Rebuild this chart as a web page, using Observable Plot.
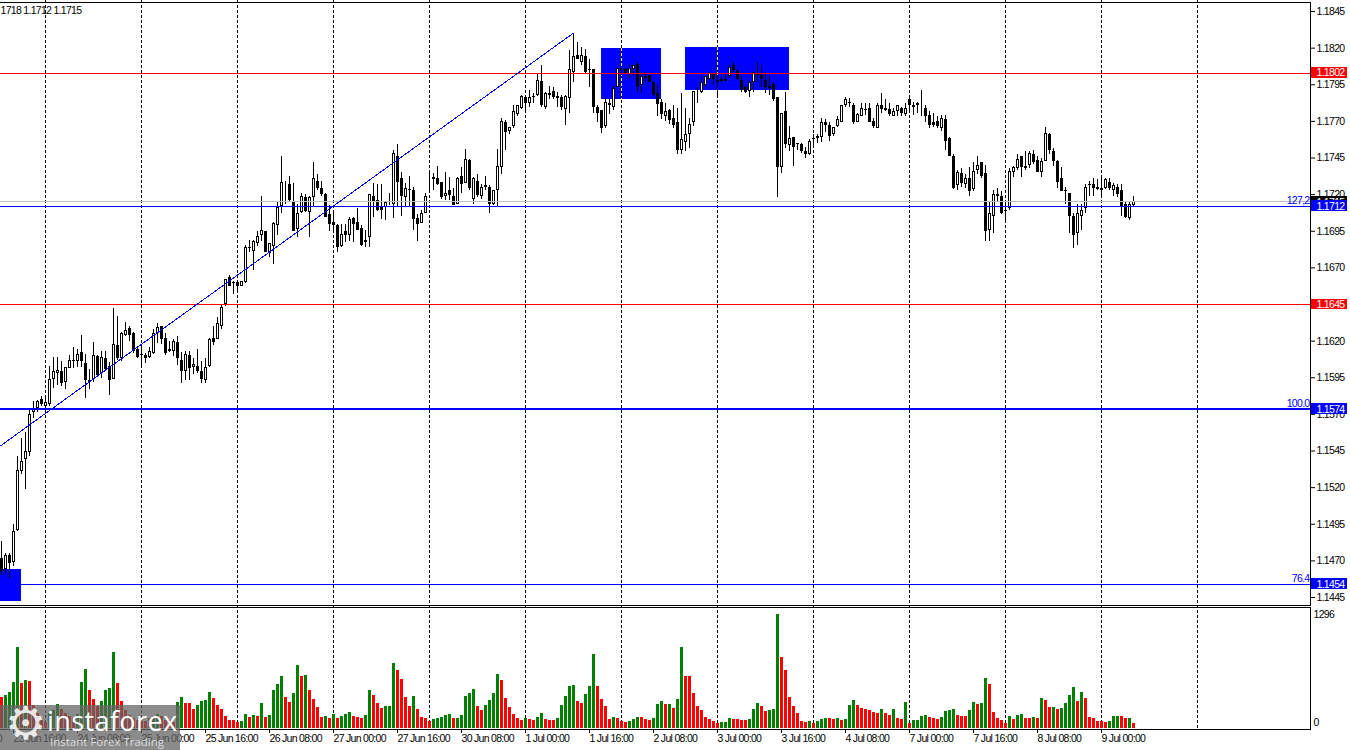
<!DOCTYPE html>
<html><head><meta charset="utf-8">
<script src="https://cdn.jsdelivr.net/npm/d3@7"></script>
<script src="https://cdn.jsdelivr.net/npm/@observablehq/plot@0.6"></script>
<style>
html,body{margin:0;padding:0;background:#fff;overflow:hidden}
#chart{position:relative;width:1350px;height:750px}
#chart svg{display:block;position:absolute;left:0}
#wm{position:absolute;left:0;top:705px;width:180px;height:45px;background:rgba(100,100,100,.75);overflow:hidden;color:#fff;font-family:"Open Sans",sans-serif}
#wm .g{position:absolute;left:5px;top:-9px;font:46px "DejaVu Sans";color:rgba(255,255,255,.85)}
#wm .n{position:absolute;left:47px;top:-3px;font-size:27px;line-height:38px;letter-spacing:.4px}
#wm .s{position:absolute;left:50px;top:29px;font-size:11.5px;line-height:15px;color:#ddd}
</style></head><body>
<div id="chart"></div>
<script>
// Candles, MT4 points (price x 100000), EURUSD H1
const highs=[114832,114752,114752,114945,115412,115532,115578,115730,115787,115792,
115821,115817,116030,116090,116090,116060,116021,116099,116155,116144,
116235,116110,116003,116194,116105,116128,116128,116053,116424,116367,
116260,116328,116299,116258,116162,116174,116117,116158,116276,116322,
116303,116253,116196,116212,116231,116121,116128,116128,116083,116144,
116060,116083,116219,116303,116362,116444,116624,116651,116604,116604,
116610,116856,116890,116890,116945,117184,116945,116863,117013,117143,
117457,117293,117327,117279,117136,117211,117204,117184,117416,117334,
117293,117211,117129,117074,116993,116993,116993,117047,117047,117102,
116986,116958,117204,117279,117266,117266,117156,117211,117504,117545,
117348,117279,117327,117252,117061,117095,117211,117348,117341,117395,
117286,117348,117320,117245,117320,117382,117511,117443,117320,117334,
117266,117327,117259,117231,117511,117723,117709,117661,117805,117811,
117880,117880,117914,117887,118030,118084,117900,117941,117934,117900,
117880,117880,118187,118303,118241,118207,118194,118125,118057,117805,
117771,117859,117852,117941,118064,118064,118064,118078,118091,118105,
118037,118037,118016,117975,117948,117846,117825,117784,117811,117791,
117893,117791,117723,117907,117934,118003,118009,118037,118030,118016,
118003,118030,118078,118105,118057,118003,117941,117982,118037,118105,
118084,118037,118009,117968,117866,117757,117900,117668,117593,117552,
117552,117525,117573,117607,117607,117723,117716,117695,117661,117736,
117811,117866,117859,117825,117757,117825,117825,117825,117723,117825,
117887,117852,117825,117791,117811,117798,117825,117859,117832,117832,
117914,117805,117764,117757,117730,117743,117743,117593,117477,117368,
117375,117334,117382,117416,117463,117416,117402,117143,117231,117245,
117218,117150,117375,117395,117477,117457,117491,117491,117504,117457,
117450,117661,117620,117518,117436,117388,117252,117211,117074,117136,
117136,117272,117293,117307,117300,117307,117307,117307,117279,117272,
117266,117143,117143,117184];
const lows=[114597,114604,114581,114661,114900,115287,115184,115412,115673,115712,
115757,115730,115753,115876,115896,115889,115867,116012,116014,116017,
116019,115807,115867,115917,115953,115946,115999,115828,115935,116071,
116060,116231,116196,116117,116078,116037,116044,116083,116112,116185,
116174,116103,116121,116094,116037,115908,115930,115928,115969,115980,
115912,115908,116019,116167,116208,116276,116433,116570,116515,116529,
116570,116590,116808,116679,116849,116883,116802,116774,116726,116918,
117074,117136,117143,116945,116904,117074,117081,116904,117115,117231,
117184,117047,116945,116945,116808,116842,116870,116877,116870,116952,
116849,116842,116836,117047,117088,117027,117020,117129,117034,117115,
117054,117115,117115,116958,116883,117006,117068,117231,117225,117259,
117170,117163,117163,117129,117136,117211,117279,117231,117136,117177,
117170,117231,117074,117129,117109,117334,117498,117607,117648,117730,
117784,117757,117798,117825,117873,117798,117784,117846,117846,117798,
117771,117675,117757,117968,118119,118084,118030,117934,117757,117695,
117620,117654,117750,117777,117928,118016,118023,117996,118003,117900,
117893,117962,117962,117873,117736,117716,117702,117682,117648,117477,
117477,117491,117518,117668,117825,117887,117934,117982,117948,117880,
117968,117975,117996,118037,117982,117900,117887,117866,117900,117962,
117928,117893,117880,117839,117177,117341,117518,117491,117395,117504,
117484,117450,117470,117518,117552,117559,117627,117566,117600,117661,
117689,117798,117798,117682,117689,117730,117743,117689,117648,117654,
117757,117764,117736,117730,117736,117736,117736,117757,117743,117757,
117730,117695,117648,117661,117654,117634,117504,117457,117238,117225,
117252,117245,117184,117218,117334,117307,116877,116877,116938,117143,
117061,117006,117095,117320,117368,117320,117368,117375,117409,117348,
117320,117429,117477,117395,117245,117218,117136,116938,116829,116856,
116958,117074,117184,117184,117225,117184,117238,117225,117184,117177,
117054,117040,117020,117122];
const bodyTops=[114718,114736,114734,114902,115318,115380,115448,115701,115730,115789,
115803,115780,115935,115994,116001,115996,116017,116069,116071,116110,
116124,116049,115933,116103,116092,116090,116083,116026,116178,116171,
116253,116271,116283,116253,116144,116110,116103,116130,116253,116294,
116299,116219,116144,116199,116194,116071,116110,116103,116039,116028,
115996,116021,116210,116221,116322,116431,116624,116631,116597,116597,
116604,116842,116836,116877,116911,116952,116945,116863,117006,117115,
117286,117272,117272,117156,117074,117184,117177,117177,117307,117293,
117245,117204,117061,117013,116986,116931,116945,117027,117034,117013,
116972,116890,117204,117190,117163,117122,117143,117156,117484,117457,
117307,117245,117238,117225,117040,117074,117190,117313,117320,117313,
117286,117211,117225,117190,117313,117327,117443,117436,117307,117293,
117252,117259,117252,117225,117395,117702,117695,117661,117764,117805,
117873,117866,117866,117873,117982,117975,117893,117893,117907,117873,
117866,117873,118057,118146,118153,118153,118146,118057,118057,117798,
117771,117832,117825,117921,118064,118057,118057,118064,118084,118091,
118009,118003,118016,117962,117893,117832,117764,117771,117723,117695,
117573,117607,117682,117907,117893,117962,118003,118030,118030,117982,
117989,117989,118071,118084,118043,117982,117934,117968,118037,118023,
118016,117982,117941,117955,117866,117757,117764,117586,117593,117552,
117545,117491,117566,117586,117600,117695,117695,117675,117661,117716,
117805,117852,117832,117811,117750,117791,117784,117791,117702,117805,
117811,117791,117784,117764,117805,117791,117791,117852,117811,117825,
117811,117791,117743,117695,117702,117723,117716,117586,117457,117354,
117341,117307,117313,117361,117402,117416,117341,117074,117204,117204,
117190,117095,117361,117382,117443,117457,117395,117484,117477,117436,
117423,117614,117607,117491,117423,117307,117231,117211,117054,117074,
117095,117252,117266,117272,117252,117245,117300,117286,117259,117252,
117225,117136,117136,117156];
const bodyBottoms=[114627,114638,114679,114688,114907,115309,115393,115439,115712,115739,
115764,115757,115764,115939,115980,115908,115919,116014,116060,116062,
116062,115930,115917,115939,115967,115976,116008,115930,115937,116078,
116080,116237,116237,116128,116087,116101,116080,116087,116117,116253,
116208,116117,116126,116126,116080,115992,115996,116012,116017,115996,
115935,115933,116024,116194,116210,116303,116447,116576,116590,116570,
116576,116597,116829,116815,116863,116918,116808,116795,116849,116986,
117122,117266,117163,116945,116965,117081,117088,117081,117177,117245,
117204,117047,116999,116986,116842,116849,116924,116924,116999,116958,
116856,116870,116904,117150,117095,117095,117115,117150,117136,117286,
117184,117177,117225,117027,116999,117006,117074,117307,117300,117266,
117177,117184,117197,117129,117136,117266,117279,117245,117170,117197,
117184,117252,117136,117136,117225,117382,117627,117634,117668,117750,
117791,117825,117825,117866,117880,117805,117798,117880,117866,117859,
117798,117784,117859,118037,118119,118105,118037,118050,117798,117757,
117654,117668,117805,117798,117934,118050,118030,118023,118057,117934,
117948,117996,117968,117880,117818,117750,117736,117709,117675,117498,
117504,117559,117607,117689,117887,117900,117948,117989,117989,117968,
117975,117975,118003,118050,117989,117914,117900,117907,117962,118016,
117989,117934,117921,117846,117388,117382,117539,117532,117525,117539,
117491,117477,117477,117579,117586,117593,117675,117600,117607,117668,
117695,117805,117825,117695,117689,117736,117777,117689,117668,117654,
117784,117777,117750,117736,117764,117757,117750,117805,117798,117805,
117805,117730,117675,117675,117668,117654,117566,117457,117245,117259,
117279,117266,117218,117238,117368,117327,116945,116958,117054,117184,
117074,117088,117102,117348,117375,117388,117375,117402,117416,117348,
117354,117429,117498,117429,117286,117218,117218,117054,116924,116938,
117054,117102,117259,117245,117238,117225,117245,117245,117225,117204,
117115,117047,117040,117129];
// W = rising (hollow) candle, B = falling (filled) candle
const candleKinds=("BWBWWWWWWW"+"BWWWWBWWBW"+"BBWWBWBBWB"+"WWBBBBBWWW"+"BBWWBBWBWB"+"BWWBWWWBWB"+"WWWWWWBWWW"+"WWBBWWBWWB"+"BBBBBWBWBB"+"BWWBBBWWWB"+
"BWBBBWWWBB"+"BWBBWBWBWB"+"WBBWWWBWWW"+"WBWWWBWBBB"+"BWWWBWBWBB"+"BWBWWWBWWB"+"WBBBBBWBBB"+"WWWWWWWWBB"+"WWWBBBBWWW"+"BBWBBWBWBB"+
"BBWWWWBBWW"+"WWBBWWBBBW"+"BBBWWBWBBB"+"BBBBBWBBBW"+"BWBWWBBWWW"+"BWWWWBWWBB"+"WWBBBBBBBW"+"WWWBBBWBWB"+"BBWW");
const volumes=[355,378,412,525,922,514,548,537,265,170,
95,68,170,204,276,219,174,132,113,163,
525,673,435,333,253,310,435,457,866,514,
310,208,151,113,95,76,83,113,140,163,
140,95,95,68,299,355,287,287,219,265,
310,321,412,344,265,219,140,95,95,64,
83,163,129,151,140,287,129,151,435,503,
593,355,299,401,718,593,605,435,333,242,
129,140,117,163,117,140,163,185,140,129,
117,151,435,378,287,231,253,253,741,662,
559,355,253,367,219,129,117,83,106,117,
129,151,163,117,117,151,367,401,446,253,
208,265,321,401,616,548,344,242,163,117,
95,117,106,95,129,174,106,95,95,117,
265,367,480,491,310,287,389,480,843,480,
333,253,106,129,117,83,72,83,106,129,
129,106,95,117,276,310,276,276,231,333,
922,593,593,401,253,208,129,106,83,60,
72,72,117,106,106,95,95,106,219,287,
253,197,208,219,1296,809,662,355,253,174,
83,72,83,60,83,106,117,117,106,117,
95,106,265,321,265,231,219,208,185,174,
219,174,151,219,117,106,299,60,95,95,
140,151,129,117,106,129,197,208,219,151,
140,140,208,299,276,287,571,503,185,117,
95,60,140,106,151,163,117,117,129,117,
344,321,242,242,219,231,287,378,469,310,
412,344,129,117,83,83,72,83,140,140,
140,117,117,60];
const volumeKinds=("rggggrgrrr"+"rrgggrrrrg"+"ggrrrggggr"+"rrrrrrrrgg"+"rrrrggrrrg"+"gggrrrrrrr"+"ggrgrgrggg"+"grrggrgrrr"+"rgrgrgggrr"+"rggrrrgggr"+
"rrrgrrrrgg"+"gggrgggggr"+"rggggrrrrr"+"rgrrggrrrg"+"ggggrrgggr"+"rrrgrrrggg"+"rrrgggrgrg"+"grrrrrrrrr"+"gggrrrrggg"+"rrgggrrrrr"+
"rrgrgggrrg"+"rgggrrrrrr"+"grrgrrgrgg"+"ggrrrggggr"+"rrggrggrrr"+"rrgrggrrgr"+"grrgrggggr"+"grrrrrrggg"+"rrgr");
const priceTicks=[1.1445,1.1470,1.1495,1.1520,1.1545,1.1570,1.1595,1.1620,1.1645,1.1670,1.1695,1.1720,1.1745,1.1770,1.1795,1.1820,1.1845];
const dateLabels=["23 Jun 00:00","23 Jun 16:00","24 Jun 08:00","25 Jun 00:00","25 Jun 16:00","26 Jun 08:00","27 Jun 00:00","27 Jun 16:00","30 Jun 08:00","1 Jul 00:00","1 Jul 16:00","2 Jul 08:00","3 Jul 00:00","3 Jul 16:00","4 Jul 08:00","7 Jul 00:00","7 Jul 16:00","8 Jul 08:00","9 Jul 00:00"];
const dateBars=[-13,3,19,35,51,67,83,99,115,131,147,163,179,195,211,227,243,259,275];
const dayBars=[11,35,59,83,107,131,155,179,203,227,251,275,299];
const levels=[{p:1.1803,label:"1.1802",c:"#ff0000",w:1},{p:1.1645,label:"1.1645",c:"#ff0000",w:1},{p:1.15735,label:"1.1574",c:"#0000ff",w:2},{p:1.1712,label:"1.1712",c:"#0000ff",w:1},{p:1.1454,label:"1.1454",c:"#0000ff",w:1}];
const lastClose=1.1715;
const fibLabels=[{p:1.1712,t:"127,2"},{p:1.15735,t:"100.0"},{p:1.1454,t:"76.4"}];
const boxes=[{a:149.875,b:164.875,top:1.18200,bot:1.17846},{a:170.875,b:196.875,top:1.18207,bot:1.17914},{a:-0.25,b:4.875,top:1.14638,bot:1.14426}];
const trend=[{i:-0.25,p:1.15485},{i:143,p:1.18303}];
const header="1718 1.1712 1.1715";

const n=highs.length, idx=d3.range(n);
const price=v=>v/1e5;
const up=i=>candleKinds[i]==="W";
const xScale={type:"linear",domain:[-0.25,327.25],range:[0,1310]};
const dash="3,2";
const font="'Liberation Sans',Arial,sans-serif";
const crisp={shapeRendering:"crispEdges"};
const pxP=25e-4/36.64;   // price per pixel, only used to size the label tags
const Hw=.375;
const tag=(p,fill,label)=>[
  Plot.rect([p],{x1:()=>327.5,x2:()=>336.5,y1:d=>d+5.5*pxP,y2:d=>d-5.5*pxP,fill,...crisp}),
  Plot.text([p],{x:()=>328.75,y:d=>d,text:()=>label,fill:"#fff",textAnchor:"start"})
];
const priceFig=Plot.plot({
  width:1350,height:606,marginLeft:0,marginRight:40,marginTop:2,marginBottom:1,
  style:{fontFamily:font,fontSize:"10.5px",letterSpacing:"-0.7px",background:"#fff",overflow:"hidden"},
  x:{...xScale,axis:null},
  y:{type:"linear",domain:[1.1845,1.1445],range:[11,597],axis:null},
  marks:[
    Plot.frame({anchor:"top"}),Plot.frame({anchor:"right"}),Plot.frame({anchor:"bottom"}),
    Plot.axisY({anchor:"right",ticks:priceTicks,tickFormat:d=>d.toFixed(4),tickSize:4,tickPadding:2,label:null}),
    Plot.rect(boxes,{x1:"a",x2:"b",y1:"top",y2:"bot",fill:"#0000ff",...crisp}),
    Plot.ruleX(dayBars,{x:d=>d,y1:1.1859,y2:1.1408,stroke:"#000",strokeDasharray:dash,...crisp}),
    Plot.ruleX([155],{x:d=>d,y1:1.18200,y2:1.17846,stroke:"#ffff00",strokeDasharray:dash,...crisp}),
    Plot.ruleX([179],{x:d=>d,y1:1.18207,y2:1.17914,stroke:"#ffff00",strokeDasharray:dash,...crisp}),
    Plot.ruleX(idx,{x:i=>i,y1:i=>price(lows[i]),y2:i=>price(highs[i]),stroke:"#000",...crisp}),
    Plot.rect(idx,{x1:i=>i-Hw,x2:i=>i+Hw,y1:i=>price(bodyTops[i]),y2:i=>price(bodyBottoms[i]),fill:"#000",...crisp}),
    Plot.rect(idx.filter(up),{x1:i=>i-Hw,x2:i=>i+Hw,y1:i=>price(bodyTops[i]),y2:i=>price(bodyBottoms[i]),inset:1,fill:"#fff",...crisp}),
    Plot.ruleY([lastClose],{stroke:"#c0c0c0",...crisp}),
    Plot.ruleY(levels,{y:"p",stroke:"c",strokeWidth:"w",...crisp}),
    Plot.line(trend,{x:"i",y:"p",stroke:"#0000ff",strokeWidth:1,...crisp}),
    Plot.text(fibLabels,{x:()=>327,y:"p",text:"t",fill:"#0000ff",textAnchor:"end",dy:-5.5}),
    Plot.text([header],{frameAnchor:"top-left",lineAnchor:"middle",dy:8,dx:0,text:d=>d,fill:"#000",textAnchor:"start"}),
    ...tag(lastClose-0.00003,"#000","1.1715"),
    ...levels.flatMap(l=>tag(l.p,l.c,l.label))
  ]
});
const volFig=Plot.plot({
  width:1350,height:144,marginLeft:0,marginRight:40,marginTop:1,marginBottom:21,
  style:{fontFamily:font,fontSize:"10.5px",letterSpacing:"-0.7px",background:"#fff",overflow:"hidden"},
  x:{...xScale,axis:null},
  y:{type:"linear",domain:[0,1296],range:[122,8],axis:null},
  marks:[
    Plot.frame({anchor:"top"}),Plot.frame({anchor:"right"}),Plot.frame({anchor:"bottom"}),
    Plot.ruleX(dayBars,{x:d=>d,y1:1400,y2:-10,stroke:"#000",strokeDasharray:dash,...crisp}),
    Plot.rect(idx,{x1:i=>i-Hw,x2:i=>i+Hw,y1:()=>0,y2:i=>volumes[i],fill:i=>volumeKinds[i]==="g"?"#008000":"#ff0000",...crisp}),
    Plot.ruleX(dateBars,{x:d=>d,y1:-10,y2:-55,stroke:"#000",...crisp}),
    Plot.text(dateBars,{x:d=>d,y:-10,text:(d,i)=>dateLabels[i],dy:9,textAnchor:"start",fill:"#000"}),
    Plot.text([1296],{x:()=>328,y:d=>d,text:d=>String(d),textAnchor:"start",fill:"#000"}),
    Plot.text([0],{x:()=>328,y:d=>d,dy:-6,text:d=>String(d),textAnchor:"start",fill:"#000"})
  ]
});
const chart=document.getElementById("chart");
priceFig.style.top="0px"; volFig.style.top="606px";
chart.append(priceFig,volFig);
const wm=document.createElement("div");
wm.id="wm";
wm.innerHTML='<div class="g">\u2699</div><div class="n">instaforex</div><div class="s">Instant Forex Trading</div>';
chart.append(wm);
</script>
</body></html>
